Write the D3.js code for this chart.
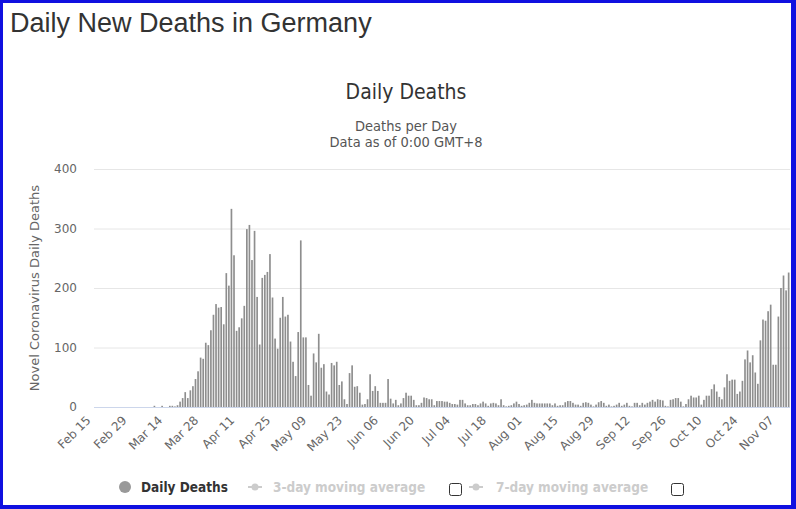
<!DOCTYPE html>
<html>
<head>
<meta charset="utf-8">
<script src="https://cdn.jsdelivr.net/npm/d3@7/dist/d3.min.js"></script>
<style>
  body { margin: 0; background: #fff; }
  svg { display: block; font-family: "Liberation Sans", Arial, sans-serif; }
</style>
</head>
<body>
<div id="chart"></div>
<script>
// daily deaths, one array per month (Feb 15 .. Nov 11)
const deathsFeb = [0,0,0,0,0,0,0,0,0,0,0,0,0,0,0];
const deathsMar = [0,0,0,0,0,0,0,0,2,0,0,2,0,0,2,2,1,3,9,15,25,15,28,35,47,60,83,81,108,104,129];
const deathsApr = [155,173,167,168,139,225,204,333,255,128,134,149,170,299,306,247,296,185,105,217,222,227,257,184,115,98,150,185,152,155];
const deathsMay = [110,76,52,126,280,117,117,37,19,90,75,123,66,72,26,21,74,70,76,37,43,13,5,57,70,34,35,24,4,5,13];
const deathsJun = [55,27,35,27,7,7,7,47,14,6,12,3,6,15,24,19,19,12,3,3,7,16,15,13,13,3,10,10,10,9];
const deathsJul = [9,7,5,5,4,12,12,6,3,3,5,5,3,6,9,6,2,6,7,6,3,13,3,1,2,3,6,9,5,2,3];
const deathsAug = [4,7,12,7,6,6,6,6,6,6,3,6,2,3,3,8,10,10,7,4,4,2,7,8,7,4,1,4,8,10,7];
const deathsSep = [2,4,1,2,4,7,2,4,7,2,1,7,7,3,7,4,7,9,12,9,13,12,11,2,1,12,13,15,15,9];
const deathsOct = [1,5,13,19,16,16,19,4,12,19,19,30,38,26,17,13,33,55,44,46,46,22,26,44,80,95,75,87,58,39,112];
const deathsNov = [147,145,161,172,71,71,152,200,221,196,226];

const startDate = "2020-02-15";
const tickLabels = ["Feb 15","Feb 29","Mar 14","Mar 28","Apr 11","Apr 25","May 09","May 23","Jun 06","Jun 20",
  "Jul 04","Jul 18","Aug 01","Aug 15","Aug 29","Sep 12","Sep 26","Oct 10","Oct 24","Nov 07"];
const yTicks = [0, 100, 200, 300, 400];
const legendItems = ["Daily Deaths", "3-day moving average", "7-day moving average"];

const deaths = [].concat(deathsFeb, deathsMar, deathsApr, deathsMay, deathsJun,
  deathsJul, deathsAug, deathsSep, deathsOct, deathsNov);
const fmt = d3.timeFormat("%b %d");
const t0 = d3.timeParse("%Y-%m-%d")(startDate);
const data = deaths.map((v, i) => ({ date: fmt(d3.timeDay.offset(t0, i)), value: v }));

const width = 796, height = 509;
const plot = { left: 94, right: 790, top: 169, bottom: 407 };
const condensed = "'DejaVu Sans Condensed', 'DejaVu Sans', sans-serif";

const svg = d3.select("#chart").append("svg")
  .attr("width", width)
  .attr("height", height);

// blue frame
svg.append("rect").attr("width", width).attr("height", height).attr("fill", "#1010e0");
svg.append("rect").attr("x", 3).attr("y", 3).attr("width", 788).attr("height", 502).attr("fill", "#fff");

svg.append("text")
  .attr("x", 10).attr("y", 32)
  .attr("font-size", "27px")
  .attr("fill", "#333")
  .text("Daily New Deaths in Germany");

svg.append("text")
  .attr("x", 406).attr("y", 99)
  .attr("text-anchor", "middle")
  .attr("font-family", condensed)
  .attr("font-size", "21px")
  .attr("fill", "#333")
  .text("Daily Deaths");

const sub = svg.append("text")
  .attr("text-anchor", "middle")
  .attr("font-family", condensed)
  .attr("font-size", "14.5px")
  .attr("fill", "#555");
sub.append("tspan").attr("x", 406).attr("y", 131).text("Deaths per Day");
sub.append("tspan").attr("x", 406).attr("y", 147).text("Data as of 0:00 GMT+8");

const x = d3.scaleBand()
  .domain(data.map(d => d.date))
  .range([plot.left, plot.right])
  .paddingInner(0.35)
  .paddingOuter(0.2);

const y = d3.scaleLinear()
  .domain([0, 400])
  .range([plot.bottom, plot.top]);

// gridlines
svg.append("g")
  .selectAll("line")
  .data(yTicks.filter(d => d > 0))
  .enter()
  .append("line")
  .attr("x1", plot.left).attr("x2", plot.right)
  .attr("y1", d => y(d) + 0.5).attr("y2", d => y(d) + 0.5)
  .attr("stroke", "#e6e6e6");

// y labels
svg.append("g")
  .selectAll("text")
  .data(yTicks)
  .enter()
  .append("text")
  .attr("x", 77)
  .attr("y", d => y(d))
  .attr("dy", "0.35em")
  .attr("text-anchor", "end")
  .attr("font-family", "'DejaVu Sans', sans-serif")
  .attr("font-size", "12px")
  .attr("fill", "#666")
  .text(d => d);

svg.append("text")
  .attr("transform", "translate(39,288) rotate(-90)")
  .attr("text-anchor", "middle")
  .attr("font-family", "'DejaVu Sans', sans-serif")
  .attr("font-size", "13px")
  .attr("fill", "#666")
  .text("Novel Coronavirus Daily Deaths");

// bars
svg.append("g")
  .selectAll("rect")
  .data(data)
  .enter()
  .append("rect")
  .attr("x", d => x(d.date))
  .attr("width", x.bandwidth())
  .attr("y", d => y(d.value))
  .attr("height", d => y(0) - y(d.value))
  .attr("fill", "#8e8e8e");

// x axis line
svg.append("line")
  .attr("x1", plot.left).attr("x2", plot.right)
  .attr("y1", plot.bottom + 0.5).attr("y2", plot.bottom + 0.5)
  .attr("stroke", "#ccd6eb");

// x labels every 14 days
svg.append("g")
  .selectAll("text")
  .data(tickLabels)
  .enter()
  .append("text")
  .attr("transform", d => {
    const cx = x(d) + x.bandwidth() / 2 - 4;
    return `translate(${cx},${plot.bottom + 14}) rotate(-45)`;
  })
  .attr("text-anchor", "end")
  .attr("font-family", "'DejaVu Sans', sans-serif")
  .attr("font-size", "12px")
  .attr("fill", "#666")
  .text(d => d);

// legend
const leg = svg.append("g").attr("font-family", condensed)
  .attr("font-size", "13.5px").attr("font-weight", "bold");
leg.append("circle").attr("cx", 125).attr("cy", 487).attr("r", 6).attr("fill", "#999");
leg.append("text").attr("x", 141).attr("y", 492).attr("fill", "#333").text(legendItems[0]);

[[248, 273, 449], [469, 496, 671]].forEach(([sx, tx, cb], i) => {
  leg.append("line").attr("x1", sx).attr("x2", sx + 14).attr("y1", 487).attr("y2", 487)
    .attr("stroke", "#ccc").attr("stroke-width", 2);
  leg.append("circle").attr("cx", sx + 7).attr("cy", 487).attr("r", 3.5).attr("fill", "#ccc");
  leg.append("text").attr("x", tx).attr("y", 492).attr("fill", "#ccc").text(legendItems[i + 1]);
  leg.append("rect").attr("x", cb + 0.5).attr("y", 483.5).attr("width", 12).attr("height", 12)
    .attr("rx", 2).attr("fill", "#fff").attr("stroke", "#333").attr("stroke-width", 1);
});
</script>
</body>
</html>
